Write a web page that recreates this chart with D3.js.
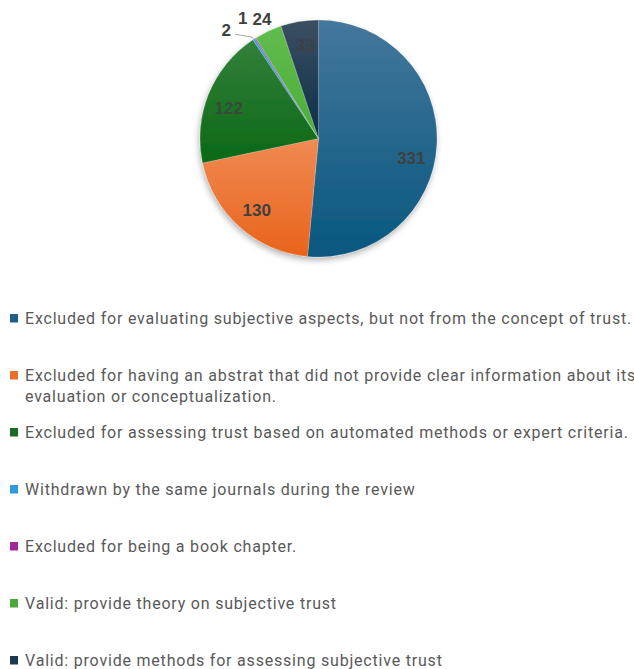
<!DOCTYPE html>
<html><head><meta charset="utf-8">
<script src="https://cdn.jsdelivr.net/npm/d3@7"></script>
<style>html,body{margin:0;padding:0;background:#fff;overflow:hidden}</style>
</head><body>
<svg id="c" width="634" height="669"></svg>
<script>
// ---- data ----
const categories = [
  "Excluded for evaluating subjective aspects, but not from the concept of trust.",
  "Excluded for having an abstrat that did not provide clear information about its|evaluation or conceptualization.",
  "Excluded for assessing trust based on automated methods or expert criteria.",
  "Withdrawn by the same journals during the review",
  "Excluded for being a book chapter.",
  "Valid: provide theory on subjective trust",
  "Valid: provide methods for assessing subjective trust"
];
const values = [331, 130, 122, 2, 1, 24, 33];
const colorsTop    = ["#44779b", "#f08a54", "#33803a", "#3a9fe0", "#a5339c", "#62bb4e", "#3b4f63"];
const colorsBottom = ["#08577f", "#e9631a", "#0b6916", "#2a8fd2", "#94278b", "#4aae38", "#0b2f48"];
const legendColors = ["#1f5f8a", "#e9702b", "#196b21", "#2e9ad8", "#a02898", "#4ea83a", "#1b3a50"];

// ---- layout ----
const cx = 318.5, cy = 138.5, R = 118.5;
const svg = d3.select("#c");
const defs = svg.append("defs");
const f = defs.append("filter").attr("id","sh").attr("x","-20%").attr("y","-20%").attr("width","140%").attr("height","140%");
f.append("feDropShadow").attr("dx",-1).attr("dy",3).attr("stdDeviation",3).attr("flood-color","#000").attr("flood-opacity",0.3);
values.forEach((v,i)=>{
  const g = defs.append("linearGradient").attr("id","g"+i).attr("x1",0).attr("y1",0).attr("x2",0).attr("y2",1);
  g.append("stop").attr("offset","0%").attr("stop-color",colorsTop[i]);
  g.append("stop").attr("offset","100%").attr("stop-color",colorsBottom[i]);
});

const pie = d3.pie().sort(null).value(d=>d)(values);
const arc = d3.arc().innerRadius(0).outerRadius(R);
const gp = svg.append("g").attr("transform",`translate(${cx},${cy})`);
gp.append("g").attr("filter","url(#sh)").selectAll("path").data(pie).join("path")
  .attr("d",arc).attr("fill",(d,i)=>`url(#g${i})`)
  .attr("stroke","rgba(255,255,255,0.35)").attr("stroke-width",0.5);

// labels
const labelRadius = [0.8, 0.8, 0.8, 1.2, 1.2, 1.12, 0.8];
const labelAngleNudge = [9, -1, -3.5, -7.4, 0, 0, 1];
const labelInside = [true, true, true, false, false, false, true];
const deg = Math.PI/180;
pie.forEach((d,i)=>{
  const a = (d.startAngle + d.endAngle)/2 + labelAngleNudge[i]*deg;
  const r = R*labelRadius[i];
  const x = Math.sin(a)*r, y = -Math.cos(a)*r;
  gp.append("text").attr("x",x).attr("y",y).attr("dy","0.36em")
    .attr("text-anchor","middle")
    .attr("font-family","Liberation Sans, Arial, sans-serif").attr("font-weight","bold")
    .attr("font-size",17).attr("fill","#404040")
    .attr("fill-opacity", (labelInside[i] && (i===2||i===6)) ? 0.85 : 1)
    .text(values[i]);
  if (i===3){
    const am = (d.startAngle + d.endAngle)/2;
    const ex = Math.sin(am)*R, ey = -Math.cos(am)*R;
    gp.append("path").attr("d",`M${x+9},${y+4}L${ex-2},${ey-2}L${ex},${ey}`)
      .attr("fill","none").attr("stroke","#a6a6a6").attr("stroke-width",1);
  }
});

// legend
const lg = svg.append("g");
const ff = "Roboto, 'Open Sans', sans-serif";
const FS = 16;
const first = categories[0].split("|")[0];
const tmp = lg.append("text").attr("font-family",ff).attr("font-size",FS).text(first);
const w0 = tmp.node().getComputedTextLength(); tmp.remove();
const ls = (607 - w0) / first.length;
categories.forEach((c,i)=>{
  const by = 324 + i*57.0;
  lg.append("rect").attr("x",10).attr("y",by-10).attr("width",8).attr("height",8.5).attr("fill",legendColors[i]);
  const t = lg.append("text").attr("font-family",ff).attr("font-size",FS)
    .attr("letter-spacing",ls).attr("fill","#595959");
  c.split("|").forEach((line,j)=>{
    t.append("tspan").attr("x",25).attr("y",by + j*21).text(line);
  });
});
</script>
</body></html>
